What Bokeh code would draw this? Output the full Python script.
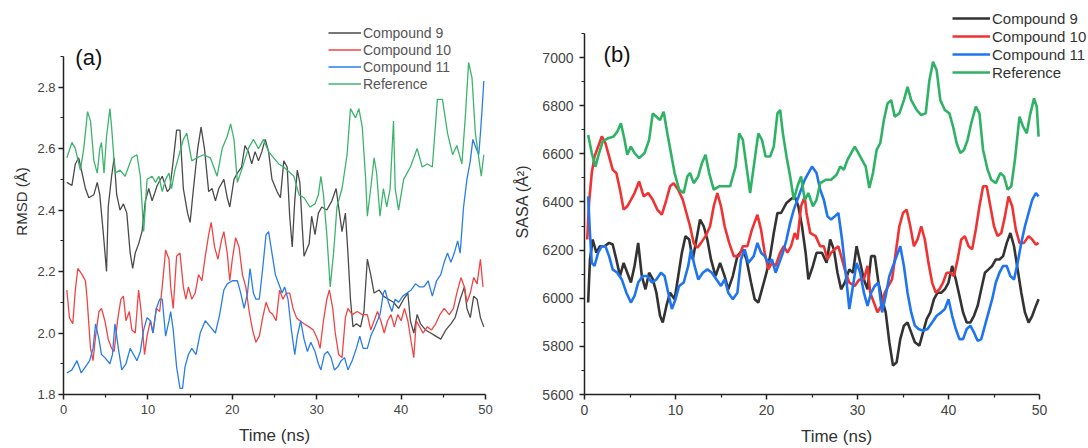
from bokeh.plotting import figure
from bokeh.models import Range1d, FixedTicker, NumeralTickFormatter, Legend, LegendItem, Label
from bokeh.layouts import row
from bokeh.embed import file_html
from bokeh.resources import INLINE

FONT = "Liberation Sans"

# ---------------- Panel (a): RMSD ----------------
t_ref_a = [0.4,1.0,1.4,2.0,2.4,2.85,3.2,3.6,4.0,4.3,4.5,4.8,5.1,5.5,5.7,6.1,6.7,7.3,8.1,8.7,9.1,9.5,9.9,10.5,10.9,11.3,11.7,12.1,12.5,12.8,13.2,13.8,14.2,14.6,15.2,15.8,16.6,17.4,18.2,18.8,19.4,19.8,20.2,20.6,21.1,21.9,22.5,23.1,23.7,24.3,24.9,25.5,26.1,26.9,27.3,27.9,28.5,29.2,29.8,30.2,30.5,30.8,31.2,31.6,32.0,32.4,33.0,33.6,34.0,34.6,35.0,35.4,35.8,36.0,36.4,36.8,37.1,37.5,37.9,38.3,38.7,39.1,39.3,39.7,40.3,41.1,41.9,42.5,43.1,43.7,44.3,44.9,45.5,46.1,46.6,47.2,47.6,48.0,48.4,48.8,49.2,49.5,49.8]
rmsd_ref = [2.57,2.62,2.60,2.53,2.60,2.72,2.69,2.56,2.52,2.60,2.62,2.52,2.64,2.73,2.67,2.52,2.53,2.51,2.57,2.58,2.51,2.33,2.50,2.51,2.49,2.51,2.46,2.50,2.52,2.47,2.53,2.59,2.63,2.65,2.56,2.57,2.58,2.57,2.51,2.60,2.64,2.68,2.63,2.49,2.53,2.60,2.63,2.60,2.63,2.59,2.57,2.55,2.54,2.52,2.51,2.45,2.44,2.41,2.42,2.45,2.51,2.45,2.32,2.15,2.26,2.41,2.47,2.58,2.73,2.70,2.73,2.67,2.50,2.38,2.47,2.57,2.52,2.38,2.47,2.41,2.47,2.69,2.47,2.40,2.50,2.54,2.60,2.54,2.55,2.54,2.76,2.76,2.65,2.58,2.61,2.55,2.70,2.88,2.83,2.65,2.57,2.51,2.58]

t_c9_a = [0.4,1.0,1.4,1.8,2.2,2.6,3.0,3.6,4.0,4.3,4.7,5.1,5.3,5.7,6.0,6.3,6.7,7.1,7.5,7.9,8.2,8.5,8.9,9.3,9.7,10.1,10.5,11.1,11.7,12.3,12.6,13.0,13.4,13.8,14.2,14.7,15.0,15.4,15.9,16.3,16.7,17.2,17.6,18.0,18.4,19.0,19.4,19.7,20.2,20.6,21.1,21.5,21.9,22.3,22.7,23.1,23.5,23.9,24.3,24.7,25.3,25.7,26.1,26.5,26.8,27.1,27.4,27.7,28.0,28.3,28.5,29.1,29.4,29.8,30.2,30.6,31.2,31.8,32.3,32.6,33.0,33.4,33.7,34.0,34.3,34.7,35.2,35.6,36.0,36.4,36.8,37.4,37.9,38.5,39.1,39.7,40.3,40.8,41.1,41.5,41.9,42.3,42.9,43.5,44.1,44.7,45.3,45.9,46.4,47.0,47.5,47.8,48.2,48.6,49.0,49.4,49.8]
rmsd_c9 = [2.49,2.48,2.55,2.57,2.52,2.47,2.44,2.45,2.49,2.45,2.33,2.20,2.41,2.51,2.57,2.45,2.40,2.42,2.39,2.26,2.21,2.26,2.29,2.33,2.43,2.47,2.43,2.48,2.51,2.46,2.47,2.56,2.66,2.66,2.47,2.39,2.36,2.47,2.60,2.67,2.60,2.46,2.47,2.43,2.47,2.50,2.44,2.41,2.50,2.52,2.54,2.61,2.59,2.55,2.59,2.56,2.59,2.63,2.59,2.50,2.46,2.44,2.56,2.54,2.38,2.28,2.43,2.53,2.49,2.34,2.25,2.29,2.38,2.32,2.39,2.41,2.40,2.43,2.47,2.41,2.33,2.39,2.26,2.11,2.02,2.03,2.02,2.07,2.24,2.19,2.13,2.14,2.12,2.11,2.10,2.08,2.11,2.13,2.04,2.00,2.06,2.03,2.01,2.00,1.99,1.98,2.01,2.03,2.05,2.11,2.15,2.08,2.05,2.12,2.11,2.05,2.02]

t_c10_a = [0.4,0.7,1.1,1.4,1.7,2.2,2.6,2.8,3.2,3.5,3.8,4.2,4.5,4.9,5.3,5.7,6.0,6.4,6.8,7.1,7.4,7.8,8.1,8.5,8.9,9.2,9.6,9.9,10.3,10.6,11.0,11.4,11.8,12.1,12.5,12.7,13.0,13.4,13.8,14.2,14.5,14.8,15.2,15.6,16.0,16.4,16.8,17.2,17.5,17.9,18.3,18.7,19.0,19.4,19.7,20.0,20.4,20.8,21.2,21.6,22.0,22.4,22.8,23.2,23.6,24.0,24.4,24.8,25.2,25.6,26.0,26.4,26.8,27.2,27.6,28.0,28.5,29.1,29.6,30.1,30.4,30.8,31.2,31.5,31.9,32.2,32.6,33.0,33.4,33.7,34.2,34.8,35.4,36.0,36.4,36.8,37.2,37.6,38.0,38.4,38.8,39.2,39.6,40.0,40.4,40.8,41.2,41.5,41.8,42.2,42.6,43.1,43.6,44.1,44.6,45.1,45.7,46.2,46.6,47.1,47.5,47.8,48.2,48.6,49.0,49.4,49.7]
rmsd_c10 = [2.14,2.05,2.03,2.14,2.21,2.19,2.17,2.11,1.95,1.91,1.99,2.07,2.08,2.04,1.98,1.95,1.94,2.04,2.11,2.12,2.04,2.07,2.01,2.00,2.14,2.07,1.93,1.99,2.04,2.00,2.08,2.07,2.18,2.27,2.24,2.15,2.08,2.25,2.26,2.15,2.11,2.15,2.11,2.13,2.19,2.17,2.25,2.32,2.36,2.28,2.24,2.30,2.33,2.26,2.17,2.24,2.31,2.28,2.19,2.15,2.07,2.01,1.97,1.99,2.05,2.10,2.07,2.06,2.04,2.14,2.11,2.13,2.13,2.08,2.05,2.04,2.03,2.02,2.01,1.98,1.95,2.04,2.11,2.14,2.08,2.00,1.93,1.92,2.05,2.08,2.06,2.07,2.06,2.06,2.01,2.04,2.07,2.04,2.00,2.04,2.06,2.02,2.06,2.04,2.08,2.04,1.97,1.92,2.04,2.02,2.00,2.02,2.01,2.03,2.06,2.08,2.06,2.08,2.13,2.18,2.15,2.10,2.13,2.18,2.16,2.24,2.15]

t_c11_a = [0.4,1.0,1.6,2.1,2.6,3.1,3.5,3.8,4.2,4.5,4.9,5.5,5.8,6.1,6.5,6.9,7.4,7.9,8.3,8.7,9.1,9.5,9.9,10.3,10.6,11.0,11.4,11.7,12.1,12.5,12.7,13.0,13.4,13.8,14.1,14.4,14.8,15.2,15.7,16.2,16.8,17.4,18.0,18.5,19.0,19.4,20.0,20.6,21.0,21.4,21.8,22.1,22.5,22.8,23.2,23.6,24.0,24.3,24.7,25.1,25.5,25.9,26.2,26.6,27.0,27.4,27.7,28.1,28.5,28.9,29.3,29.8,30.2,30.5,30.9,31.3,31.7,32.1,32.5,32.9,33.3,33.7,34.2,34.7,35.1,35.5,36.0,36.4,36.9,37.5,37.9,38.1,38.5,38.9,39.3,39.7,40.2,40.7,41.2,41.7,42.2,42.7,43.2,43.7,44.2,44.7,45.1,45.5,45.9,46.3,46.7,47.0,47.4,47.8,48.2,48.5,48.9,49.2,49.4,49.6,49.8]
rmsd_c11 = [1.87,1.88,1.91,1.87,1.89,1.91,1.95,2.03,1.98,1.93,1.92,1.90,1.93,2.03,1.95,1.88,1.90,1.95,1.93,1.91,1.94,2.01,2.05,2.04,2.00,2.08,2.11,2.11,1.99,2.04,2.07,2.01,1.89,1.82,1.82,1.89,1.93,1.95,1.93,2.00,2.04,2.02,2.00,2.06,2.14,2.16,2.17,2.17,2.13,2.08,2.13,2.21,2.13,2.11,2.11,2.21,2.32,2.33,2.26,2.19,2.16,2.13,2.15,2.11,2.01,1.93,1.99,2.04,1.98,1.94,1.97,1.94,1.90,1.88,1.93,1.94,1.92,1.88,1.89,1.91,1.92,1.88,1.91,1.95,1.99,1.95,1.95,1.99,2.02,2.06,2.13,2.14,2.10,2.07,2.11,2.10,2.12,2.13,2.14,2.16,2.15,2.15,2.17,2.12,2.17,2.19,2.23,2.26,2.23,2.26,2.30,2.26,2.41,2.50,2.56,2.63,2.60,2.58,2.65,2.73,2.82]

# ---------------- Panel (b): SASA ----------------
t_ref_b = [0.4,0.8,1.2,1.6,2.0,2.6,3.2,3.6,4.0,4.4,4.7,5.1,5.5,6.0,6.6,7.1,7.5,7.9,8.3,8.7,9.1,9.5,9.9,10.4,10.9,11.3,11.6,12.0,12.5,12.9,13.3,13.7,14.2,14.8,15.4,16.0,16.6,17.0,17.4,17.8,18.2,18.7,19.1,19.5,19.9,20.4,20.8,21.2,21.5,21.8,22.2,22.6,23.0,23.4,23.8,24.2,24.6,25.1,25.5,25.9,26.5,27.1,27.7,28.1,28.5,28.9,29.3,29.7,30.1,30.5,30.9,31.3,31.7,32.1,32.5,32.9,33.3,33.7,34.1,34.6,35.1,35.5,35.9,36.5,37.0,37.5,37.9,38.3,38.7,39.1,39.6,40.1,40.5,40.9,41.3,41.7,42.1,42.5,43.0,43.4,43.8,44.3,44.7,45.2,45.7,46.1,46.5,46.9,47.3,47.8,48.2,48.6,49.0,49.4,49.7,49.9]
sasa_ref = [6678,6603,6547,6603,6651,6665,6672,6692,6727,6658,6596,6630,6603,6582,6603,6658,6768,6754,6740,6775,6685,6603,6520,6451,6437,6506,6520,6478,6506,6561,6596,6520,6451,6465,6465,6465,6547,6685,6658,6547,6437,6575,6685,6658,6589,6589,6630,6768,6782,6685,6589,6506,6409,6465,6506,6409,6437,6382,6409,6478,6492,6492,6513,6547,6534,6575,6603,6630,6603,6575,6547,6458,6520,6616,6644,6740,6809,6823,6754,6768,6823,6878,6823,6782,6761,6768,6906,6982,6947,6823,6782,6768,6713,6644,6603,6616,6658,6727,6796,6768,6616,6534,6492,6478,6520,6506,6451,6465,6575,6754,6713,6685,6768,6830,6796,6671]

t_c9_b = [0.4,0.6,0.9,1.3,1.7,2.2,2.7,3.1,3.5,3.9,4.3,4.7,5.1,5.5,5.9,6.3,6.7,7.1,7.5,7.9,8.3,8.6,9.0,9.4,9.9,10.3,10.7,11.1,11.5,11.9,12.3,12.7,13.1,13.5,13.9,14.4,14.9,15.4,15.8,16.3,16.8,17.4,17.8,18.3,18.7,19.1,19.5,20.0,20.4,20.8,21.2,21.6,22.2,22.6,23.1,23.5,23.9,24.3,24.6,25.1,25.5,26.1,26.6,27.0,27.4,27.8,28.2,28.6,29.1,29.5,29.9,30.3,30.7,31.1,31.5,31.9,32.3,32.7,33.1,33.5,33.9,34.3,34.7,35.1,35.5,35.9,36.3,36.8,37.2,37.6,38.0,38.4,38.8,39.2,39.6,40.0,40.4,40.8,41.2,41.6,42.0,42.4,42.8,43.2,43.6,44.0,44.4,44.8,45.2,45.6,46.0,46.4,46.8,47.2,47.6,48.0,48.4,48.8,49.2,49.6,49.9]
sasa_c9 = [5982,6161,6244,6189,6216,6216,6230,6223,6161,6092,6147,6106,6065,6134,6230,6092,6037,6106,6079,6023,5927,5899,5968,6023,5996,6092,6189,6258,6244,6161,6244,6327,6299,6244,6161,6092,6147,6092,6037,6092,6175,6203,6161,6065,5996,5982,6037,6106,6175,6271,6354,6354,6396,6409,6423,6382,6299,6189,6078,6134,6189,6189,6147,6244,6203,6106,6037,6065,6120,6106,6216,6147,6078,6037,6175,6175,6065,5996,5941,5817,5720,5734,5830,5886,5899,5858,5817,5803,5858,5913,5941,5996,6023,6023,6037,6065,6134,6078,6010,5941,5899,5899,5927,5968,6037,6106,6120,6134,6161,6161,6175,6230,6271,6216,6120,6023,5941,5899,5927,5968,5996]

t_c10_b = [0.3,0.5,0.8,1.1,1.5,1.9,2.3,2.7,3.1,3.5,3.9,4.3,4.7,5.1,5.5,6.0,6.5,7.0,7.5,8.0,8.5,9.0,9.4,9.8,10.3,10.8,11.2,11.6,12.0,12.4,12.8,13.3,13.8,14.2,14.6,15.0,15.4,15.9,16.4,17.0,17.4,17.9,18.4,19.0,19.4,19.8,20.2,20.6,21.0,21.5,21.9,22.3,22.7,23.1,23.4,23.8,24.2,24.4,24.8,25.4,25.9,26.3,26.7,27.1,27.5,27.9,28.3,28.7,29.1,29.7,30.2,30.7,31.1,31.4,31.8,32.2,32.6,33.0,33.4,33.8,34.2,34.6,35.0,35.4,35.8,36.2,36.6,37.0,37.4,37.8,38.2,38.6,39.0,39.4,39.8,40.2,40.6,41.0,41.4,41.8,42.2,42.6,43.0,43.4,43.8,44.2,44.6,45.0,45.4,45.8,46.2,46.6,47.0,47.4,47.8,48.3,48.8,49.2,49.6,49.9]
sasa_c10 = [6244,6396,6520,6589,6630,6672,6644,6589,6534,6520,6451,6368,6382,6409,6437,6485,6423,6437,6409,6368,6347,6409,6465,6478,6451,6409,6354,6299,6230,6210,6230,6258,6299,6382,6437,6382,6299,6230,6175,6175,6216,6216,6285,6347,6285,6189,6120,6147,6134,6189,6216,6189,6216,6271,6244,6382,6423,6354,6271,6258,6216,6216,6161,6189,6203,6216,6161,6106,6065,6051,6078,6078,6134,6023,5982,5941,5968,6023,6051,6078,6189,6299,6354,6368,6299,6216,6244,6299,6244,6147,6065,6023,6037,6065,6106,6106,6092,6161,6244,6258,6216,6203,6285,6382,6465,6465,6382,6299,6258,6271,6340,6423,6382,6285,6230,6230,6258,6244,6223,6230]

t_c11_b = [0.4,0.6,0.8,1.1,1.5,1.9,2.3,2.7,3.1,3.6,4.1,4.6,5.1,5.5,5.9,6.4,6.9,7.4,7.9,8.4,8.8,9.2,9.6,10.0,10.4,10.9,11.4,11.7,12.1,12.5,13.0,13.5,14.0,14.5,15.0,15.4,15.8,16.3,16.8,17.2,17.6,18.0,18.6,19.0,19.4,19.8,20.2,20.6,21.0,21.4,21.8,22.2,22.6,23.0,23.4,23.8,24.2,24.6,25.0,25.5,25.9,26.3,26.7,27.1,27.5,27.9,28.3,28.7,29.1,29.5,29.9,30.3,30.7,31.1,31.5,31.9,32.3,32.7,33.1,33.5,33.9,34.3,34.7,35.1,35.5,35.9,36.3,36.7,37.2,37.7,38.2,38.7,39.2,39.6,40.0,40.4,40.8,41.2,41.6,42.0,42.4,42.8,43.2,43.6,44.0,44.4,44.8,45.2,45.6,46.0,46.4,46.8,47.2,47.6,48.0,48.4,48.8,49.2,49.6,49.9]
sasa_c11 = [6423,6271,6147,6134,6189,6216,6216,6175,6120,6106,6078,6023,5982,6010,6065,6092,6092,6065,6078,6106,6092,6023,5955,5996,6051,6065,6134,6203,6134,6078,6106,6120,6106,6078,6051,6078,6023,5996,6023,6161,6203,6147,6175,6230,6189,6175,6147,6161,6106,6147,6189,6244,6313,6368,6409,6451,6492,6520,6547,6520,6451,6409,6340,6327,6340,6354,6244,6106,5955,6051,6147,6106,6023,5968,6023,6051,6065,5941,6010,6092,6134,6175,6216,6134,6023,5941,5886,5872,5865,5872,5899,5927,5941,5955,5996,5927,5872,5830,5830,5872,5886,5858,5823,5830,5886,5941,5996,6065,6106,6134,6134,6092,6078,6147,6230,6299,6354,6409,6437,6423]

series_labels = ["Compound 9", "Compound 10", "Compound 11", "Reference"]
x_ticks = [0, 10, 20, 30, 40, 50]
x_minor = [5, 15, 25, 35, 45]
rmsd_ticks = [1.8, 2.0, 2.2, 2.4, 2.6, 2.8]
rmsd_minor = [1.9, 2.1, 2.3, 2.5, 2.7, 2.9]
sasa_ticks = [5600, 5800, 6000, 6200, 6400, 6600, 6800, 7000]
sasa_minor = [5700, 5900, 6100, 6300, 6500, 6700, 6900, 7100]

# shared frame geometry (both frames span page y 8..395 so that row alignment agrees)
FRAME_TOP = 8
FRAME_BOTTOM_BORDER = 53
FRAME_H = 448 - FRAME_TOP - FRAME_BOTTOM_BORDER


def style_axes(p, tick_size, label_size, ytick_standoff, ylabel_standoff):
    for ax in (p.xaxis[0], p.yaxis[0]):
        ax.axis_line_color = "#222222"
        ax.axis_line_width = 1.5
        ax.major_tick_line_color = "#222222"
        ax.major_tick_line_width = 1.5
        ax.minor_tick_line_color = "#222222"
        ax.minor_tick_line_width = 1.2
        ax.major_tick_in = 0
        ax.major_tick_out = 5
        ax.minor_tick_in = 0
        ax.minor_tick_out = 3
        ax.major_label_text_font = FONT
        ax.major_label_text_font_size = tick_size
        ax.major_label_text_color = "#444444"
        ax.axis_label_text_font = FONT
        ax.axis_label_text_font_style = "normal"
        ax.axis_label_text_color = "#333333"
        ax.axis_label_text_font_size = label_size
    p.xaxis.major_label_standoff = 5
    p.xaxis.axis_label_standoff = 9
    p.yaxis.major_label_standoff = ytick_standoff
    p.yaxis.axis_label_standoff = ylabel_standoff


# ---------- figure (a) ----------
# frame extended upward so the legend and panel tag fit inside it; axis limited by bounds
pa = figure(width=505, height=448, output_backend="svg", toolbar_location=None, title=None,
            x_range=Range1d(0, 50), y_range=Range1d(1.8, 1.8 + FRAME_H / 308.2),
            min_border_left=63, min_border_right=20, min_border_top=FRAME_TOP,
            min_border_bottom=FRAME_BOTTOM_BORDER)
pa.outline_line_color = None
pa.grid.visible = False
pa.xaxis.ticker = FixedTicker(ticks=x_ticks, minor_ticks=x_minor)
pa.yaxis.ticker = FixedTicker(ticks=rmsd_ticks, minor_ticks=rmsd_minor)
pa.yaxis.bounds = (1.8, 2.9)
pa.yaxis.formatter = NumeralTickFormatter(format="0.0")
pa.xaxis.axis_label = "Time (ns)"
pa.yaxis.axis_label = "RMSD (Å)"
style_axes(pa, "13px", "17px", 3, 4)
pa.yaxis.axis_label_text_font_size = "15px"

cols_a = ["#4a4a4a", "#f04444", "#2a7de8", "#3cb46e"]
lw_a = 1.3
ra9 = pa.line(t_c9_a, rmsd_c9, line_color=cols_a[0], line_width=lw_a)
ra10 = pa.line(t_c10_a, rmsd_c10, line_color=cols_a[1], line_width=lw_a)
ra11 = pa.line(t_c11_a, rmsd_c11, line_color=cols_a[2], line_width=lw_a)
raref = pa.line(t_ref_a, rmsd_ref, line_color=cols_a[3], line_width=lw_a)

leg_a = Legend(items=[LegendItem(label=series_labels[0], renderers=[ra9]),
                      LegendItem(label=series_labels[1], renderers=[ra10]),
                      LegendItem(label=series_labels[2], renderers=[ra11]),
                      LegendItem(label=series_labels[3], renderers=[raref])],
               location=(265, 302), glyph_width=33, glyph_height=17, label_height=17,
               label_standoff=2, padding=0, margin=0, spacing=0,
               border_line_color=None, background_fill_alpha=0,
               label_text_font=FONT, label_text_font_size="14px", label_text_color="#555555")
pa.add_layout(leg_a)
pa.add_layout(Label(x=1.4, y=2.897, text="(a)", text_font=FONT, text_font_size="22px",
                    text_color="#111111", text_baseline="middle"))

# ---------- figure (b) ----------
pb = figure(width=583, height=448, output_backend="svg", toolbar_location=None, title=None,
            x_range=Range1d(0, 504 / 9.1), y_range=Range1d(5600, 5600 + FRAME_H * 1500 / 362),
            min_border_left=79, min_border_right=0, min_border_top=FRAME_TOP,
            min_border_bottom=FRAME_BOTTOM_BORDER)
pb.outline_line_color = None
pb.grid.visible = False
pb.xaxis.ticker = FixedTicker(ticks=x_ticks, minor_ticks=x_minor)
pb.yaxis.ticker = FixedTicker(ticks=sasa_ticks, minor_ticks=sasa_minor)
pb.xaxis.bounds = (0, 50)
pb.yaxis.bounds = (5600, 7100)
pb.xaxis.axis_label = "Time (ns)"
pb.yaxis.axis_label = "SASA (Å²)"
style_axes(pb, "14px", "17px", 6, 8)
pb.yaxis.axis_label_text_font_size = "16px"

cols_b = ["#333333", "#f03232", "#1f74f0", "#30b266"]
lw_b = 2.6
rb9 = pb.line(t_c9_b, sasa_c9, line_color=cols_b[0], line_width=lw_b)
rb10 = pb.line(t_c10_b, sasa_c10, line_color=cols_b[1], line_width=lw_b)
rb11 = pb.line(t_c11_b, sasa_c11, line_color=cols_b[2], line_width=lw_b)
rbref = pb.line(t_ref_b, sasa_ref, line_color=cols_b[3], line_width=lw_b)

leg_b = Legend(items=[LegendItem(label=series_labels[0], renderers=[rb9]),
                      LegendItem(label=series_labels[1], renderers=[rb10]),
                      LegendItem(label=series_labels[2], renderers=[rb11]),
                      LegendItem(label=series_labels[3], renderers=[rbref])],
               location=(368, 313), glyph_width=38, glyph_height=18, label_height=18,
               label_standoff=2, padding=0, margin=0, spacing=0,
               border_line_color=None, background_fill_alpha=0,
               label_text_font=FONT, label_text_font_size="15px", label_text_color="#333333")
pb.add_layout(leg_b)
pb.add_layout(Label(x=2.1, y=7012, text="(b)", text_font=FONT, text_font_size="22px",
                    text_color="#111111", text_baseline="middle"))

layout = row(pa, pb, spacing=0)
open("out.html", "w").write(file_html(layout, INLINE))
